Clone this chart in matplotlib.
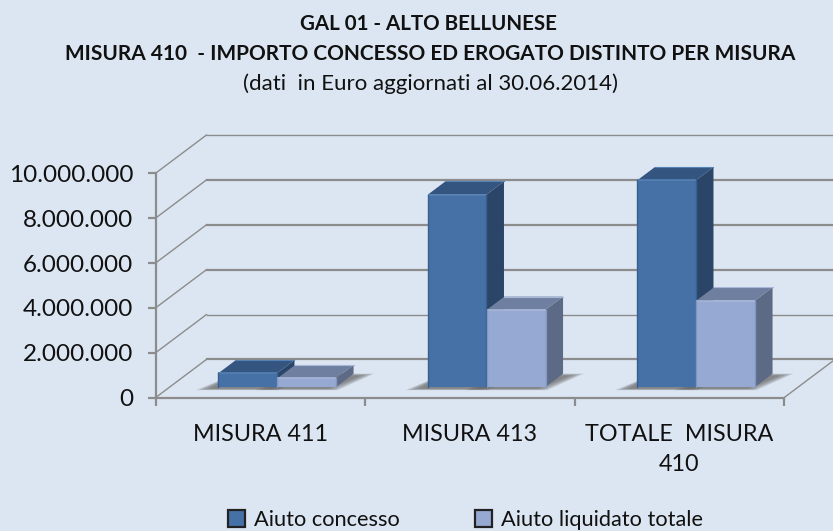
import matplotlib
matplotlib.use('Agg')
import matplotlib.pyplot as plt
from matplotlib.patches import Polygon, Patch

plt.rcParams['font.family'] = ['Lato', 'DejaVu Sans']

categorie = ['MISURA 411', 'MISURA 413', 'TOTALE  MISURA\n410']
aiuto_concesso = [600000, 8560000, 9200000]
aiuto_liquidato = [375000, 3430000, 3840000]
serie = ['Aiuto concesso', 'Aiuto liquidato totale']
y_ticks = [0, 2000000, 4000000, 6000000, 8000000, 10000000]
y_labels = ['0', '2.000.000', '4.000.000', '6.000.000', '8.000.000', '10.000.000']

W, H = 833, 531
bg = '#DCE6F2'
griglia = '#8C8C8C'

# how far the back wall is from the front plane, in data units
DX = 51 / 209.5
DY = 38.3 / 22.44 * 1e6
bar_w = 0.28
d0, d1 = 0.287, 0.63


def p(x, v, d=0):
    return (x + d * DX, v + d * DY)


fig = plt.figure(figsize=(W / 100, H / 100), dpi=100, facecolor=bg)
ax = fig.add_axes([155.5 / W, 1 - 397.7 / H, 628.5 / W, 224.4 / H], facecolor='none')
ax.set_xlim(0, 3)
ax.set_ylim(0, 10000000)

# walls
for v in y_ticks:
    lw = 1.0 if v in (2000000, 10000000) else 1.6
    ax.plot(*zip(p(0, v), p(0, v, 1)), color=griglia, lw=1.0, clip_on=False, zorder=1)
    ax.plot(*zip(p(0, v, 1), p(3.3, v, 1)), color=griglia, lw=lw, clip_on=False, zorder=1)
ax.plot(*zip(p(3, 0), p(3, 0, 1)), color=griglia, lw=1.0, clip_on=False, zorder=1)


def ombra(x0, zo):
    # soft floor shadow, stacked transparent layers
    for k in range(6):
        e = 0.011 * k
        pts = [p(x0 - 0.085 + e, 0, d0 - 0.09 + e * 0.7), p(x0 + bar_w + 0.03 - e, 0, d0 - 0.09 + e * 0.7),
               p(x0 + bar_w + 0.10 - e, 0, d1 - e), p(x0 + 0.0, 0, d1 - e)]
        ax.add_patch(Polygon(pts, closed=True, fc='#666666', ec='none', alpha=0.2, clip_on=False, zorder=zo))


def barra(x0, v, front, top, side, hi, lo, zo):
    x1 = x0 + bar_w
    ax.add_patch(Polygon([p(x0, 0, d0), p(x1, 0, d0), p(x1, 0, d1), p(x0, 0, d1)], fc=side, ec='none', clip_on=False, zorder=zo))
    ax.add_patch(Polygon([p(x1, 0, d0), p(x1, v, d0), p(x1, v, d1), p(x1, 0, d1)], fc=side, ec='none', clip_on=False, zorder=zo))
    ax.add_patch(Polygon([p(x0, v, d0), p(x1, v, d0), p(x1, v, d1), p(x0, v, d1)], fc=top, ec='none', clip_on=False, zorder=zo))
    ax.add_patch(Polygon([p(x0, 0, d0), p(x1, 0, d0), p(x1, v, d0), p(x0, v, d0)], fc=front, ec='none', clip_on=False, zorder=zo))
    # bevels
    ax.plot(*zip(p(x0, v, d0), p(x1, v, d0)), color=hi, lw=1.2, clip_on=False, zorder=zo, solid_capstyle='butt')
    ax.plot(*zip(p(x0, 0, d0), p(x0, v, d0)), color=lo, lw=1.0, clip_on=False, zorder=zo)
    ax.plot(*zip(p(x1, 0, d0), p(x1, v, d0)), color=lo, lw=1.0, clip_on=False, zorder=zo)
    ax.plot(*zip(p(x0, v, d1), p(x1, v, d1)), color=hi, lw=0.8, clip_on=False, zorder=zo)


for i in range(len(categorie)):
    xa = i + 0.5 - bar_w + 0.01
    xb = i + 0.5 + 0.012
    ombra(xa, 2)
    ombra(xb, 2)
for i in range(len(categorie)):
    xa = i + 0.5 - bar_w + 0.01
    xb = i + 0.5 + 0.012
    barra(xa, aiuto_concesso[i], '#4571A7', '#34557F', '#2B4568', '#5581B5', '#385F90', 3 + i)
    barra(xb, aiuto_liquidato[i], '#95A9D2', '#6F7F9F', '#5C6A85', '#A6B7DA', '#8297BF', 3 + i)

for s in ['top', 'right']:
    ax.spines[s].set_visible(False)
for s in ['left', 'bottom']:
    ax.spines[s].set_color(griglia)
    ax.spines[s].set_linewidth(1.6)
    ax.spines[s].set_zorder(2)

ax.set_yticks(y_ticks)
ax.set_yticklabels(y_labels)
ax.set_xticks([0, 1, 2, 3])
ax.set_xticklabels([])
ax.set_xticks([0.5, 1.5, 2.5], labels=categorie, minor=True)
ax.tick_params(axis='both', which='major', color=griglia, width=1.6, length=6, direction='out')
ax.tick_params(axis='y', labelsize=17.5, pad=10, labelcolor='#111111', direction='out')
ax.tick_params(axis='x', which='minor', length=0, labelsize=16.8, pad=19, labelcolor='#111111')
for t in ax.get_xticklabels(minor=True):
    t.set_linespacing(1.55)

fig.text(428 / W, 1 - 24 / H, 'GAL 01 - ALTO BELLUNESE', ha='center', va='center', fontsize=14.8, fontweight='bold', color='#111111')
fig.text(430 / W, 1 - 54 / H, 'MISURA 410  - IMPORTO CONCESSO ED EROGATO DISTINTO PER MISURA', ha='center', va='center', fontsize=15.0, fontweight='bold', color='#111111')
fig.text(430 / W, 1 - 84 / H, '(dati  in Euro aggiornati al 30.06.2014)', ha='center', va='center', fontsize=16, color='#111111')

handles = [Patch(fc='#4571A7', ec='#222222', lw=1.6), Patch(fc='#95A9D2', ec='#222222', lw=1.6)]
fig.legend(handles, serie, ncol=2, frameon=False, loc='center', bbox_to_anchor=(465.5 / W, 1 - 520 / H),
           fontsize=15.7, handlelength=0.78, handleheight=0.78, handletextpad=0.42, columnspacing=3.45, borderpad=0, labelcolor='#111111')

fig.savefig('out.png', dpi=100, facecolor=bg)
